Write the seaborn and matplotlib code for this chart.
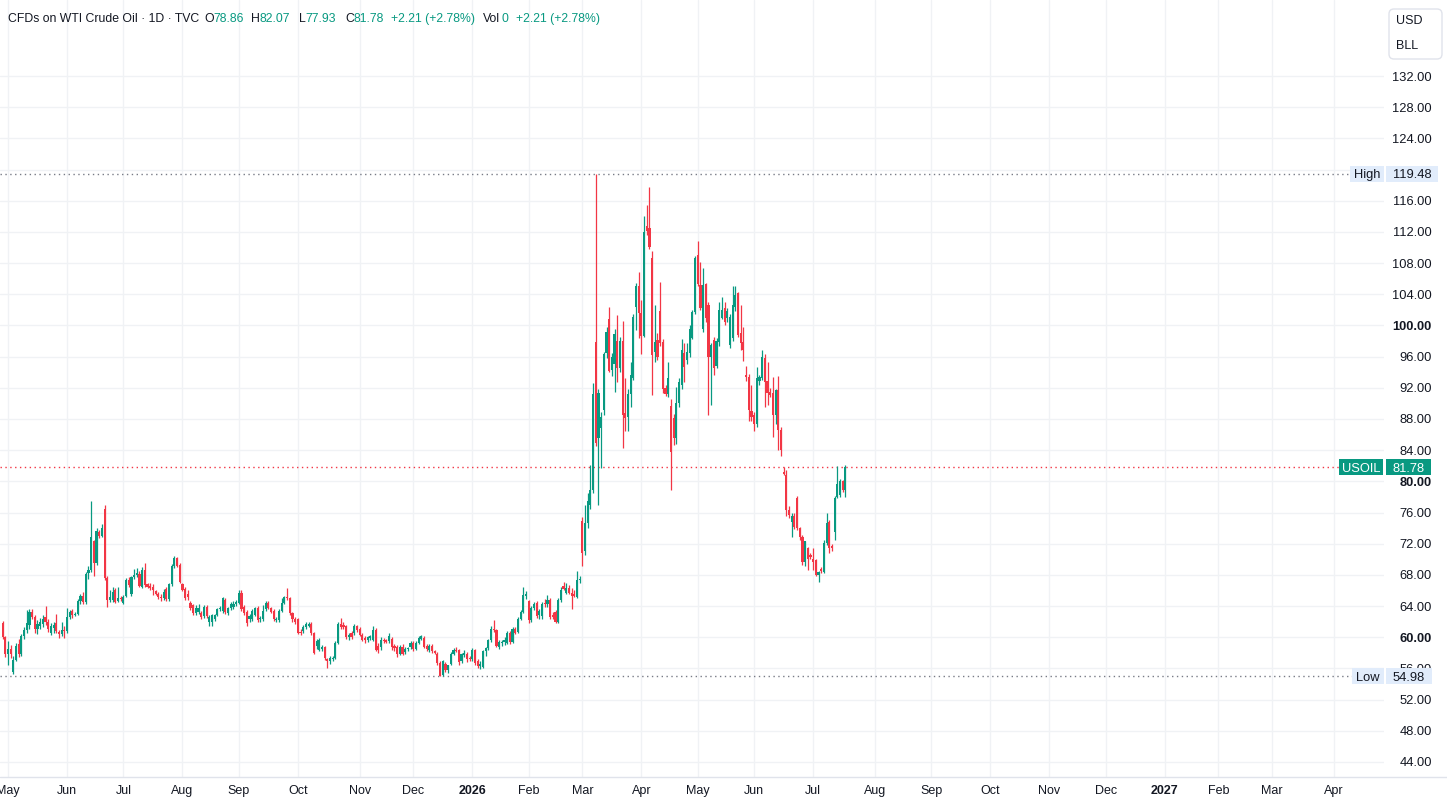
import numpy as np
import pandas as pd
import matplotlib
matplotlib.use("Agg")
import matplotlib.pyplot as plt
import seaborn as sns
from matplotlib.patches import Rectangle, FancyBboxPatch
from matplotlib.lines import Line2D
from matplotlib.transforms import blended_transform_factory

# TradingView light theme colours
UP = "#089981"
DOWN = "#f23645"
TEXT = "#131722"
GRID = "#f0f2f5"
TAG_BG = "#e1ecfb"

# daily candles, 29 Apr 2025 -> 17 Jul 2026 (one line per month)
opens = [
    61.8, 60.0,
    57.9, 58.5, 55.6, 57.1, 59.1, 57.8, 60.2, 60.9, 61.6, 63.3, 62.6, 61.0, 61.5, 61.7, 62.6, 61.9, 60.6, 61.2, 61.8, 60.7, 60.4, 60.9,
    60.8, 62.6, 63.4, 62.8, 63.0, 64.6, 65.3, 64.5, 68.3, 68.6, 72.3, 69.5, 73.5, 73.0, 76.5, 67.6, 64.8, 64.8, 66.1, 64.7, 65.0,
    64.4, 65.3, 67.3, 65.5, 67.7, 68.0, 68.1, 66.5, 68.6, 66.8, 66.6, 66.5, 65.9, 65.6, 65.2, 65.0, 66.2, 64.9, 66.8, 69.1, 70.2, 69.3,
    66.8, 66.2, 65.6, 64.4, 64.1, 63.1, 63.2, 63.1, 62.7, 63.9, 61.9, 61.9, 62.3, 62.9, 63.6, 63.4, 64.8, 63.1, 63.7, 63.9, 64.3,
    64.4, 65.7, 63.9, 63.3, 62.3, 62.3, 62.9, 63.8, 62.3, 62.3, 63.6, 64.4, 63.7, 63.4, 62.2, 62.2, 63.4, 64.4, 65.1, 65.0, 63.1, 62.4,
    62.3, 60.7, 60.8, 61.3, 61.5, 61.7, 60.5, 58.9, 58.4, 58.5, 58.7, 57.2, 56.9, 57.2, 57.4, 59.3, 61.7, 61.6, 61.4, 60.0, 60.6, 60.5, 61.4,
    61.0, 60.3, 59.9, 59.7, 59.9, 59.7, 60.9, 58.9, 58.7, 59.7, 59.6, 59.5, 59.8, 58.9, 58.8, 57.9, 58.8, 58.1, 58.5, 58.7,
    59.3, 58.5, 59.3, 59.8, 59.9, 58.9, 58.3, 58.9, 58.2, 57.9, 56.7, 55.1, 56.6, 55.8, 56.6, 57.9, 58.4, 58.3, 56.9, 57.7, 57.9, 57.4,
    57.2, 58.3, 57.0, 56.3, 56.2, 58.2, 58.6, 59.6, 61.0, 60.9, 58.8, 59.2, 59.4, 59.3, 60.6, 59.4, 61.1, 60.7, 62.4, 63.3, 65.3,
    64.6, 62.2, 63.7, 64.4, 62.9, 62.7, 64.4, 64.2, 64.8, 62.9, 63.2, 62.0, 64.8, 66.6, 65.7, 66.3, 65.7, 65.5, 65.2, 67.3,
    74.9, 71.0, 74.7, 77.0, 78.9, 97.9, 85.6, 86.8, 89.2, 96.5, 100.8, 94.3, 95.0, 98.0, 94.5, 98.0, 88.8, 88.3, 91.2, 93.3, 102.4, 105.0,
    101.6, 98.7, 112.8, 112.5, 108.7, 96.6, 98.1, 101.9, 97.9, 92.0, 91.2, 89.7, 88.1, 85.6, 90.0, 92.4, 96.5, 95.6, 96.5, 98.4, 101.7,
    109.0, 105.2, 99.6, 105.3, 102.6, 96.0, 98.1, 94.8, 97.9, 101.0, 102.2, 100.9, 97.5, 98.4, 102.4, 104.1, 99.0, 97.9, 93.7, 93.4, 89.0,
    88.5, 87.4, 92.9, 93.3, 95.8, 92.9, 91.5, 91.3, 88.5, 91.7, 86.6, 81.2, 80.8, 76.3, 74.8, 75.6, 77.9, 74.0, 72.9, 69.7, 71.4, 70.5,
    70.1, 69.9, 68.0, 68.7, 68.4, 72.1, 74.8, 71.7, 73.5, 78.0, 78.3, 80.0, 78.86,
]
highs = [
    62.1, 60.1,
    59.5, 59.0, 57.6, 59.2, 59.8, 60.4, 61.3, 63.5, 63.6, 63.6, 62.8, 62.2, 62.5, 62.9, 64.0, 62.3, 61.8, 62.0, 63.0, 60.9, 61.9, 61.4,
    63.8, 63.5, 63.6, 63.2, 64.9, 65.6, 65.8, 68.4, 69.2, 77.5, 72.5, 74.0, 73.8, 74.5, 77.0, 67.8, 66.0, 66.4, 66.3, 66.4, 65.3,
    65.4, 67.6, 67.7, 67.9, 68.8, 68.9, 68.5, 69.0, 69.5, 67.0, 66.9, 66.8, 66.1, 65.8, 65.5, 66.2, 66.5, 67.0, 69.4, 70.4, 70.3, 69.5,
    67.0, 66.5, 66.0, 64.7, 64.3, 64.1, 64.3, 63.4, 64.1, 64.1, 62.9, 63.0, 63.0, 63.8, 64.0, 65.2, 65.0, 63.9, 64.5, 64.6, 64.8,
    66.0, 66.0, 64.1, 63.5, 63.0, 63.6, 63.9, 64.0, 62.7, 64.1, 64.7, 64.6, 63.9, 63.6, 62.6, 63.6, 65.0, 65.3, 66.3, 65.2, 63.3, 62.6,
    62.5, 61.0, 61.6, 61.9, 61.9, 61.9, 60.7, 59.8, 59.9, 59.0, 58.9, 57.4, 57.6, 57.6, 59.5, 62.0, 62.5, 61.9, 61.6, 60.6, 60.8, 61.7, 61.6,
    61.3, 60.5, 60.1, 60.2, 60.3, 61.4, 61.2, 59.2, 60.0, 59.9, 59.8, 60.5, 60.0, 59.1, 59.0, 59.0, 59.1, 58.7, 58.8, 59.5,
    59.5, 59.5, 60.1, 60.3, 60.1, 59.1, 59.1, 59.1, 58.4, 58.1, 56.9, 57.1, 56.8, 56.5, 58.1, 58.6, 58.7, 58.5, 58.0, 58.3, 58.1, 57.6,
    58.6, 58.5, 57.2, 57.0, 58.4, 58.8, 59.8, 61.4, 62.2, 61.1, 59.6, 59.6, 60.0, 60.8, 60.8, 61.3, 61.3, 62.6, 63.5, 66.5, 65.9,
    64.8, 64.0, 64.5, 64.6, 63.6, 64.5, 64.9, 65.4, 65.0, 63.3, 63.5, 65.0, 66.4, 67.1, 66.9, 66.7, 66.3, 66.0, 68.5, 67.8,
    75.4, 77.0, 78.5, 82.1, 92.6, 119.48, 91.8, 88.9, 96.6, 99.8, 102.4, 96.5, 99.6, 101.3, 98.5, 100.6, 93.3, 91.8, 95.3, 101.5, 105.4, 106.8,
    103.3, 114.0, 115.4, 117.8, 109.5, 102.6, 99.0, 105.6, 98.3, 92.3, 95.3, 90.5, 88.6, 92.1, 93.3, 98.3, 97.7, 97.7, 100.0, 102.0, 108.9,
    110.8, 108.2, 107.4, 105.5, 103.0, 97.8, 98.5, 98.4, 103.0, 103.6, 103.0, 102.2, 101.5, 105.0, 105.0, 104.3, 102.6, 99.8, 94.8, 93.8, 92.4,
    88.9, 94.7, 93.7, 96.8, 96.3, 95.3, 92.0, 93.4, 91.9, 93.5, 87.0, 81.8, 81.5, 76.8, 75.9, 75.9, 78.1, 74.2, 73.1, 72.4, 71.6, 70.8,
    71.4, 70.0, 68.5, 69.0, 72.5, 75.9, 75.1, 72.0, 78.1, 82.0, 80.3, 80.2, 82.07,
]
lows = [
    59.8, 57.5,
    56.4, 57.3, 55.3, 56.9, 57.5, 57.6, 59.8, 60.6, 61.0, 62.3, 60.5, 60.4, 61.0, 61.3, 61.6, 60.7, 60.3, 60.5, 60.5, 59.9, 60.2, 59.9,
    60.6, 62.4, 62.5, 62.7, 62.8, 64.3, 64.2, 64.3, 67.5, 68.4, 67.8, 69.3, 72.7, 72.8, 67.3, 63.9, 64.5, 64.5, 64.4, 64.5, 64.6,
    64.2, 65.1, 66.4, 65.3, 67.5, 67.7, 66.4, 66.3, 66.5, 66.3, 66.0, 65.4, 65.4, 64.9, 64.7, 64.8, 64.7, 64.7, 66.6, 68.9, 69.0, 66.9,
    65.9, 64.8, 64.8, 63.5, 62.9, 62.9, 63.0, 62.3, 62.5, 62.5, 61.4, 61.4, 62.1, 62.7, 63.4, 63.1, 63.0, 62.9, 63.5, 63.6, 64.0,
    64.2, 63.4, 62.9, 61.4, 62.0, 62.1, 62.7, 62.0, 62.0, 62.1, 63.4, 63.6, 63.1, 62.1, 62.0, 62.0, 63.2, 64.2, 64.8, 62.9, 62.0, 61.7,
    60.4, 60.3, 60.5, 61.1, 61.3, 60.3, 57.8, 58.5, 58.2, 58.2, 57.1, 56.0, 56.6, 57.0, 57.2, 59.1, 61.1, 61.1, 59.8, 59.6, 59.8, 60.3, 60.7,
    60.1, 59.5, 59.3, 59.4, 59.6, 59.5, 58.2, 58.0, 58.4, 59.3, 59.2, 59.3, 58.4, 58.2, 57.5, 57.7, 57.7, 57.8, 58.2, 58.5,
    58.2, 58.3, 59.1, 59.6, 58.6, 58.2, 58.1, 58.0, 57.8, 56.5, 54.98, 55.0, 55.6, 55.4, 56.4, 57.7, 58.1, 56.5, 56.7, 57.5, 56.8, 56.9,
    57.0, 56.5, 56.0, 55.9, 56.0, 57.6, 58.4, 59.4, 60.7, 58.7, 58.5, 58.9, 59.0, 59.1, 59.1, 59.2, 60.4, 60.5, 62.2, 63.1, 64.9,
    61.8, 62.0, 63.5, 62.5, 62.4, 62.4, 63.9, 63.9, 62.3, 62.3, 61.8, 61.8, 64.5, 66.0, 65.5, 65.5, 63.6, 65.1, 65.0, 66.9,
    69.1, 70.5, 74.0, 76.5, 78.5, 84.5, 77.0, 81.7, 88.5, 95.8, 94.0, 93.5, 91.5, 92.8, 94.0, 84.3, 86.4, 86.4, 89.5, 93.0, 99.4, 98.4,
    96.4, 98.5, 111.6, 109.8, 91.1, 95.3, 95.6, 97.4, 91.3, 91.0, 90.8, 78.9, 84.6, 84.8, 89.6, 91.8, 92.7, 95.0, 96.0, 98.2, 101.5,
    105.0, 102.0, 99.2, 100.5, 88.5, 89.8, 93.7, 94.5, 97.4, 100.8, 100.0, 100.5, 97.1, 98.0, 101.8, 98.5, 96.8, 95.4, 92.9, 87.7, 87.7,
    86.4, 87.0, 92.3, 93.0, 89.6, 89.8, 90.8, 85.7, 87.4, 84.0, 83.2, 80.8, 75.5, 75.3, 72.9, 73.9, 73.8, 72.5, 69.3, 69.2, 68.6, 70.0,
    68.6, 67.8, 67.1, 68.3, 68.2, 71.8, 70.8, 71.0, 72.5, 77.8, 78.0, 78.6, 77.93,
]
closes = [
    60.0, 57.9,
    58.5, 57.9, 57.1, 58.9, 57.8, 60.2, 60.9, 61.8, 63.3, 62.6, 61.0, 61.7, 62.0, 62.4, 61.9, 61.1, 61.5, 61.6, 60.8, 60.4, 60.9, 60.8,
    62.6, 63.2, 62.8, 63.0, 64.6, 65.3, 64.5, 68.1, 68.6, 72.9, 69.5, 73.6, 73.0, 74.0, 67.6, 64.8, 65.2, 65.8, 64.5, 65.0, 64.9,
    65.1, 67.3, 66.7, 67.7, 68.0, 68.3, 66.6, 68.6, 66.7, 66.5, 66.3, 66.1, 65.6, 65.2, 65.0, 65.8, 64.9, 66.8, 69.1, 70.2, 69.2, 67.1,
    66.1, 65.0, 65.1, 63.7, 63.1, 63.8, 63.8, 62.6, 63.9, 62.7, 62.6, 62.9, 62.9, 63.6, 63.8, 65.0, 63.2, 63.7, 64.2, 64.3, 64.5,
    65.7, 63.6, 63.1, 61.8, 62.7, 63.4, 63.7, 62.2, 62.5, 63.4, 64.4, 63.8, 63.3, 62.3, 62.4, 63.4, 64.4, 65.1, 65.0, 63.1, 62.3, 61.9,
    60.6, 60.5, 61.3, 61.7, 61.7, 60.5, 58.0, 59.5, 59.6, 58.8, 57.3, 56.9, 57.4, 57.4, 59.3, 61.7, 61.3, 61.3, 60.0, 60.3, 60.0, 61.4, 60.9,
    60.3, 59.7, 59.6, 60.0, 60.1, 60.9, 58.4, 58.4, 59.7, 59.5, 59.4, 60.2, 58.8, 58.6, 57.9, 58.8, 57.9, 58.5, 58.6, 59.3,
    58.5, 59.3, 59.9, 60.1, 58.8, 58.5, 58.9, 58.2, 58.0, 56.7, 55.0, 56.9, 55.8, 56.4, 57.9, 58.4, 58.2, 56.8, 57.8, 58.0, 57.2, 57.2,
    58.3, 56.7, 56.3, 56.6, 58.2, 58.6, 59.6, 61.0, 60.9, 58.9, 59.4, 59.4, 59.7, 60.6, 59.4, 61.1, 60.6, 62.4, 63.3, 65.4, 65.6,
    62.2, 63.7, 64.3, 62.7, 63.4, 64.3, 64.2, 64.8, 62.6, 62.6, 62.0, 64.8, 66.1, 66.2, 66.3, 65.7, 65.3, 65.3, 67.3, 67.5,
    70.8, 74.7, 77.5, 78.9, 91.2, 84.9, 91.3, 88.3, 96.3, 99.2, 94.2, 96.0, 98.9, 94.5, 98.0, 88.5, 88.1, 91.2, 93.6, 101.1, 105.0, 101.6,
    98.7, 112.0, 112.1, 110.1, 96.2, 97.9, 96.0, 97.8, 91.9, 91.2, 93.2, 83.8, 85.5, 90.0, 92.8, 96.8, 94.7, 96.6, 99.5, 101.7, 108.6,
    105.3, 102.3, 105.2, 101.0, 96.0, 97.5, 94.5, 98.0, 102.0, 102.0, 100.5, 101.9, 101.1, 102.6, 103.9, 98.8, 97.7, 96.8, 93.4, 89.2, 88.3,
    87.4, 93.2, 93.4, 96.0, 92.8, 91.3, 91.1, 88.5, 91.7, 86.6, 84.0, 81.0, 76.3, 75.7, 75.6, 74.2, 74.0, 72.9, 69.7, 72.3, 70.1, 70.3,
    69.7, 68.0, 68.4, 68.5, 72.1, 74.7, 71.4, 71.4, 77.9, 79.7, 80.0, 78.9, 81.78,
]

period_high = 119.48
period_low = 54.98
last_price = 81.78
change_txt = "+2.21 (+2.78%)"
price_ticks = list(range(44, 133, 4))
bold_ticks = [60, 80, 100]
hidden_ticks = [120]  # sits under the "High" tag

# trading sessions (weekdays without the days the CFD is shut)
closed_days = pd.to_datetime(["2025-07-04", "2025-12-25", "2026-01-01", "2026-04-03",
                              "2026-12-25", "2027-01-01"])
sessions = pd.bdate_range("2025-04-29", "2027-05-31")
sessions = sessions[~sessions.isin(closed_days)]

df = pd.DataFrame({"open": opens, "high": highs, "low": lows, "close": closes})
df["date"] = sessions[:len(df)]
df["idx"] = np.arange(len(df))
df["color"] = np.where(df["close"] >= df["open"], UP, DOWN)

W, H = 1447, 807
AX_R, AX_B = 1384, 777
BAR_PX = 2.684
x0 = -0.97
x1 = x0 + AX_R / BAR_PX
ymin, ymax = 42.07, 141.75

# month ticks on the session index
pos = pd.Series(np.arange(len(sessions)), index=sessions)
firsts = pos.groupby([sessions.year, sessions.month]).min()
tick_pos, tick_lab = [], []
for (yr, mo), i in firsts.items():
    if sessions[i].day > 7 or i > x1:
        continue
    tick_pos.append(i)
    tick_lab.append(str(yr) if mo == 1 else sessions[i].strftime("%b"))

sns.set_theme(style="white")
plt.rcParams["font.family"] = ["Liberation Sans", "DejaVu Sans"]

fig = plt.figure(figsize=(W / 100, H / 100), dpi=100)
fig.patch.set_facecolor("white")
ax = fig.add_axes([0, (H - AX_B) / H, AX_R / W, AX_B / H])

# candles
ax.vlines(df["idx"], df["low"], df["high"], colors=df["color"], linewidth=0.9, zorder=3)
body = (df["close"] - df["open"]).abs().clip(lower=0.12)
bottom = df[["open", "close"]].min(axis=1)
ax.bar(df["idx"], body, bottom=bottom, width=0.8, color=df["color"], linewidth=0, zorder=3)

# grid & axes
ax.set_xticks(tick_pos, tick_lab)
ax.set_yticks(price_ticks, ["" if v in hidden_ticks else f"{v:.2f}" for v in price_ticks])
ax.set_xlim(x0, x1)
ax.set_ylim(ymin, ymax)
ax.grid(True, color=GRID, linewidth=1)
ax.set_axisbelow(True)
for s in ax.spines.values():
    s.set_visible(False)
ax.yaxis.tick_right()
ax.tick_params(axis="y", length=0, pad=34.5, labelsize=9.3, labelcolor=TEXT)
ax.tick_params(axis="x", length=0, pad=6, labelsize=9.0, labelcolor=TEXT)
for lab in ax.get_yticklabels():
    lab.set_horizontalalignment("right")
    if lab.get_text() in [f"{b:.2f}" for b in bold_ticks]:
        lab.set_fontweight("bold")
for lab in ax.get_xticklabels():
    if lab.get_text().isdigit():
        lab.set_fontweight("bold")

# high / low / last price lines
dots = (0, (1, 2.5))
ax.axhline(period_high, xmax=1350 / AX_R, color="#787b86", lw=1, ls=dots, zorder=2)
ax.axhline(period_low, xmax=1352 / AX_R, color="#787b86", lw=1, ls=dots, zorder=2)
ax.axhline(last_price, xmax=1339 / AX_R, color=DOWN, lw=1, ls=dots, zorder=2)

tag_tr = blended_transform_factory(fig.dpi_scale_trans, ax.transData)
box_h = 16 * (ymax - ymin) / AX_B


def tag(xa, xb, price, label, fc, tc):
    ax.add_patch(Rectangle((xa / 100, price - box_h / 2), (xb - xa) / 100, box_h,
                           transform=tag_tr, fc=fc, ec="none", clip_on=False, zorder=6))
    ax.text((xa + xb) / 200, price, label, transform=tag_tr, ha="center",
            va="center_baseline", color=tc, fontsize=9.3, clip_on=False, zorder=7)


tag(1350, 1384, period_high, "High", TAG_BG, TEXT)
tag(1386, 1438, period_high, f"{period_high:.2f}", TAG_BG, TEXT)
tag(1352, 1384, period_low, "Low", TAG_BG, TEXT)
tag(1386, 1432, period_low, f"{period_low:.2f}", TAG_BG, TEXT)
tag(1339, 1383, last_price, "USOIL", UP, "white")
tag(1386, 1431, last_price, f"{last_price:.2f}", UP, "white")

# currency / unit box
fig.add_artist(FancyBboxPatch((1389 / 100, (H - 59) / 100), 0.53, 0.50,
                              boxstyle="round,pad=0,rounding_size=0.05",
                              transform=fig.dpi_scale_trans, fc="white",
                              ec="#e0e3eb", lw=1))
fig.text(1396 / W, 1 - 21 / H, "USD", fontsize=9, color=TEXT, va="center")
fig.text(1396 / W, 1 - 46 / H, "BLL", fontsize=9, color=TEXT, va="center")

# bottom border of the chart pane
fig.add_artist(Line2D([0, 1], [1 - AX_B / H] * 2, transform=fig.transFigure,
                      color="#e0e3eb", lw=1))

# legend line at the top
hy = 1 - 19 / H
header = [
    (8, "CFDs on WTI Crude Oil · 1D · TVC", TEXT),
    (204, "O", TEXT), (213, f"{opens[-1]:.2f}", UP),
    (251, "H", TEXT), (259, f"{highs[-1]:.2f}", UP),
    (299, "L", TEXT), (305, f"{lows[-1]:.2f}", UP),
    (345, "C", TEXT), (353, f"{closes[-1]:.2f}", UP),
    (391, change_txt, UP),
    (483, "Vol", TEXT), (501, "0", UP),
    (516, change_txt, UP),
]
for hx, s, c in header:
    fig.text(hx / W, hy, s, color=c, fontsize=8.8, va="center", ha="left")

fig.savefig("out.png", dpi=100, facecolor="white")
